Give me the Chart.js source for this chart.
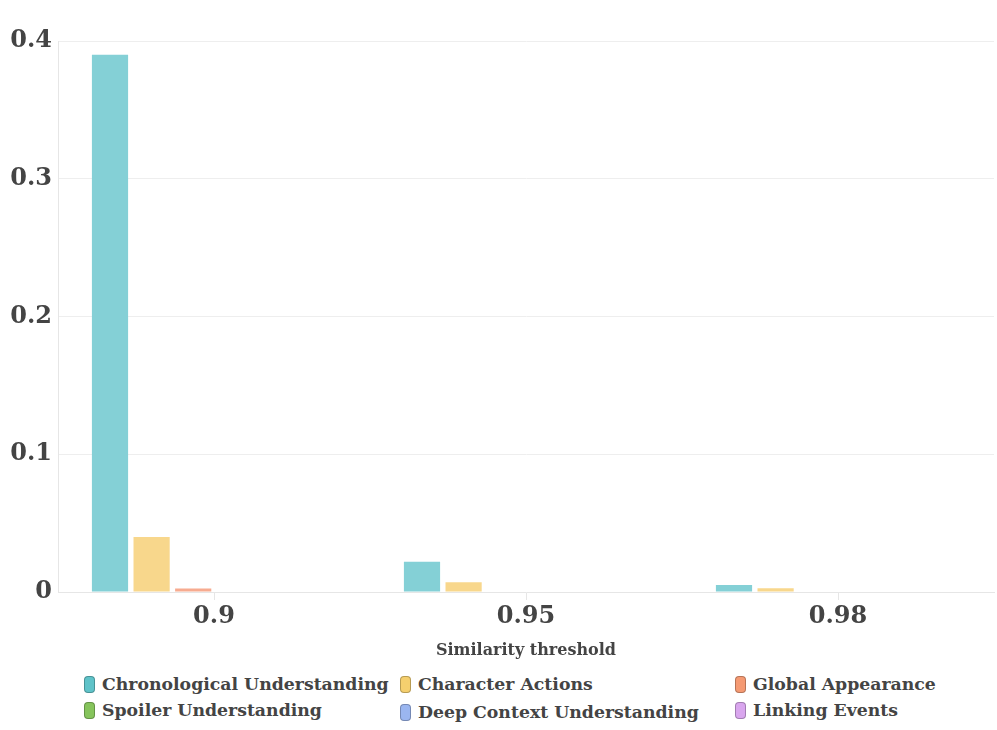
<!DOCTYPE html>
<html>
<head>
<meta charset="utf-8">
<script src="https://cdn.jsdelivr.net/npm/chart.js@4.4.1/dist/chart.umd.min.js"></script>
<style>
  body { margin: 0; background: #fff; font-family: "DejaVu Serif", serif; }
  #wrap { position: relative; width: 997px; height: 730px; }
  #chartBox { position: absolute; left: 0; top: 0; width: 997px; height: 664px; }
  #legend { position: absolute; left: 0; top: 674px; width: 997px; }
  .item { position: absolute; display: flex; align-items: center; font-weight: bold; font-size: 17.3px; color: #444; white-space: nowrap; }
  .box { width: 11px; height: 17px; border-radius: 4px; margin-right: 7px; box-sizing: border-box; border: 1px solid rgba(0,0,0,0.25); }
</style>
</head>
<body>
<div id="wrap">
  <div id="chartBox"><canvas id="chart"></canvas></div>
  <div id="legend"></div>
</div>
<script>
// categorías y series
const thresholds = ["0.9", "0.95", "0.98"];
const seriesNames = [
  "Chronological Understanding",
  "Character Actions",
  "Global Appearance",
  "Spoiler Understanding",
  "Deep Context Understanding",
  "Linking Events"
];
const chronological = [0.39, 0.022, 0.005];
const characterActions = [0.04, 0.007, 0.0027];
const globalAppearance = [0.0025, 0, 0];
const spoiler = [0, 0, 0];
const deepContext = [0, 0, 0];
const linkingEvents = [0, 0, 0];
const yTicks = [0, 0.1, 0.2, 0.3, 0.4];

const barColors = ["#84d0d6", "#f8d78c", "#f7ab90", "#9fd07f", "#a9c1f1", "#dcb6f0"];
const boxColors = ["#5fc3c9", "#f5cf6e", "#f59a73", "#86c45c", "#9bb6f0", "#d9a6ee"];
const allSeries = [chronological, characterActions, globalAppearance, spoiler, deepContext, linkingEvents];

// posiciones de la leyenda (grid de 3 columnas)
const legendPos = [
  [84, 0], [400, 0], [735, 0],
  [84, 26], [400, 28], [735, 26]
];
const legendEl = document.getElementById("legend");
seriesNames.forEach((name, i) => {
  const d = document.createElement("div");
  d.className = "item";
  d.style.left = legendPos[i][0] + "px";
  d.style.top = legendPos[i][1] + "px";
  const b = document.createElement("span");
  b.className = "box";
  b.style.background = boxColors[i];
  const t = document.createElement("span");
  t.textContent = name;
  d.appendChild(b);
  d.appendChild(t);
  legendEl.appendChild(d);
});

const ctx = document.getElementById("chart").getContext("2d");
new Chart(ctx, {
  type: "bar",
  data: {
    labels: thresholds,
    datasets: seriesNames.map((name, i) => ({
      label: name,
      data: allSeries[i],
      backgroundColor: barColors[i],
      borderWidth: 0,
      categoryPercentage: 0.8,
      barPercentage: 0.87
    }))
  },
  options: {
    responsive: true,
    maintainAspectRatio: false,
    animation: false,
    layout: { padding: { top: 41, right: 3, left: 0, bottom: 0 } },
    plugins: {
      legend: { display: false },
      tooltip: { enabled: false }
    },
    scales: {
      x: {
        grid: { offset: false, drawOnChartArea: false, tickLength: 8, color: "#e6e6e6" },
        border: { color: "#e6e6e6" },
        ticks: { color: "#444", font: { family: "DejaVu Serif", size: 24, weight: "bold" }, padding: 2 },
        title: {
          display: true,
          text: "Similarity threshold",
          color: "#444",
          font: { family: "DejaVu Serif", size: 16, weight: "bold" },
          padding: { top: 8 }
        }
      },
      y: {
        min: 0,
        max: 0.4,
        afterFit: (scale) => { scale.width = 58; },
        afterBuildTicks: (scale) => { scale.ticks = yTicks.map((v) => ({ value: v })); },
        grid: { color: "#eeeeee", drawTicks: false },
        border: { color: "#e6e6e6" },
        ticks: {
          color: "#444",
          padding: 6,
          font: { family: "DejaVu Serif", size: 24, weight: "bold" },
          callback: (v) => (v === 0 ? "0" : v.toFixed(1))
        }
      }
    }
  }
});
</script>
</body>
</html>
